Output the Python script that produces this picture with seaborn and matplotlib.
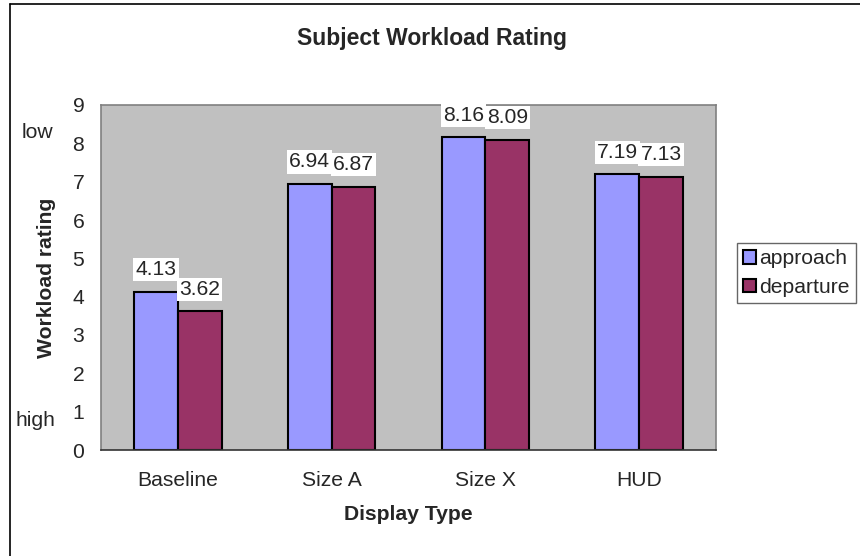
"""
plot.py
=======
Subject workload rating by display type (approach vs departure), Excel-style
grouped bar chart recreated with seaborn.
"""
import matplotlib
matplotlib.use("Agg")
import matplotlib.pyplot as plt
from matplotlib.lines import Line2D
import pandas as pd
import seaborn as sns

# --- data -------------------------------------------------------------------
displays  = ["Baseline", "Size A", "Size X", "HUD"]
approach  = [4.13, 6.94, 8.16, 7.19]
departure = [3.62, 6.87, 8.09, 7.13]
phases    = ["approach", "departure"]
y_ticks   = list(range(0, 10))

# --- style ------------------------------------------------------------------
W, H = 860, 556
FS   = 15.2
BG   = "#C0C0C0"
PALETTE = {"approach": "#9999FF", "departure": "#993366"}

sns.set_style("white")
plt.rcParams["font.family"] = ["Liberation Sans", "DejaVu Sans"]
plt.rcParams["font.size"] = FS

df = pd.DataFrame({
    "display": displays * 2,
    "phase":   [phases[0]] * len(displays) + [phases[1]] * len(displays),
    "rating":  approach + departure,
})

fig = plt.figure(figsize=(W / 100, H / 100), dpi=100)
ax  = fig.add_axes([101 / W, 106 / H, 615 / W, 345 / H])

sns.barplot(
    data=df, x="display", y="rating", hue="phase", order=displays,
    hue_order=phases, palette=PALETTE, width=0.57, errorbar=None,
    edgecolor="black", linewidth=1.5, saturation=1, ax=ax,
)

ax.set_facecolor(BG)
ax.set_ylim(0, 9)
ax.set_yticks(y_ticks)
ax.tick_params(axis="y", length=0, pad=12, labelsize=FS)
ax.tick_params(axis="x", which="major", length=0, pad=15, labelsize=FS)
ax.set_xticks([i - 0.5 for i in range(len(displays) + 1)], minor=True)
ax.tick_params(axis="x", which="minor", length=6, width=1, color="#333333",
               direction="out")
ax.set_xlim(-0.5, len(displays) - 0.5)

for side in ("left", "top", "right"):
    ax.spines[side].set_color("#808080")
    ax.spines[side].set_linewidth(1.2)
ax.spines["bottom"].set_color("#333333")
ax.spines["bottom"].set_linewidth(1.2)

for cont in ax.containers:
    ax.bar_label(cont, fmt="%.2f", padding=9, fontsize=FS,
                 bbox=dict(facecolor="white", edgecolor="none", pad=1.5))

ax.set_xlabel("Display Type", fontweight="bold", fontsize=FS, labelpad=11)
ax.set_ylabel("Workload rating", fontweight="bold", fontsize=FS, labelpad=12)
fig.text(432 / W, 1 - 38 / H, "Subject Workload Rating", ha="center",
         va="center", fontweight="bold", fontsize=16.5)

ytr = ax.get_yaxis_transform()
ax.text(-0.104, 8.27, "low", transform=ytr, ha="center", va="center",
        fontsize=FS)
ax.text(-0.107, 0.78, "high", transform=ytr, ha="center", va="center",
        fontsize=FS)

sns.move_legend(
    ax, "upper left", bbox_to_anchor=(737 / W, 1 - 243 / H),
    bbox_transform=fig.transFigure, title=None, frameon=True, fancybox=False,
    edgecolor="#404040", fontsize=FS, borderpad=0.3, borderaxespad=0,
    handlelength=0.62, handleheight=0.62, handletextpad=0.15,
    labelspacing=0.45,
)
ax.get_legend().get_frame().set_linewidth(1.0)

# chart-area border (only top and left visible in the crop)
fig.add_artist(Line2D([9.5 / W, 9.5 / W], [0, 1 - 4 / H], color="black", lw=1.2))
fig.add_artist(Line2D([9.5 / W, 1], [1 - 4 / H, 1 - 4 / H], color="black", lw=1.2))

fig.savefig("out.png", dpi=100)
